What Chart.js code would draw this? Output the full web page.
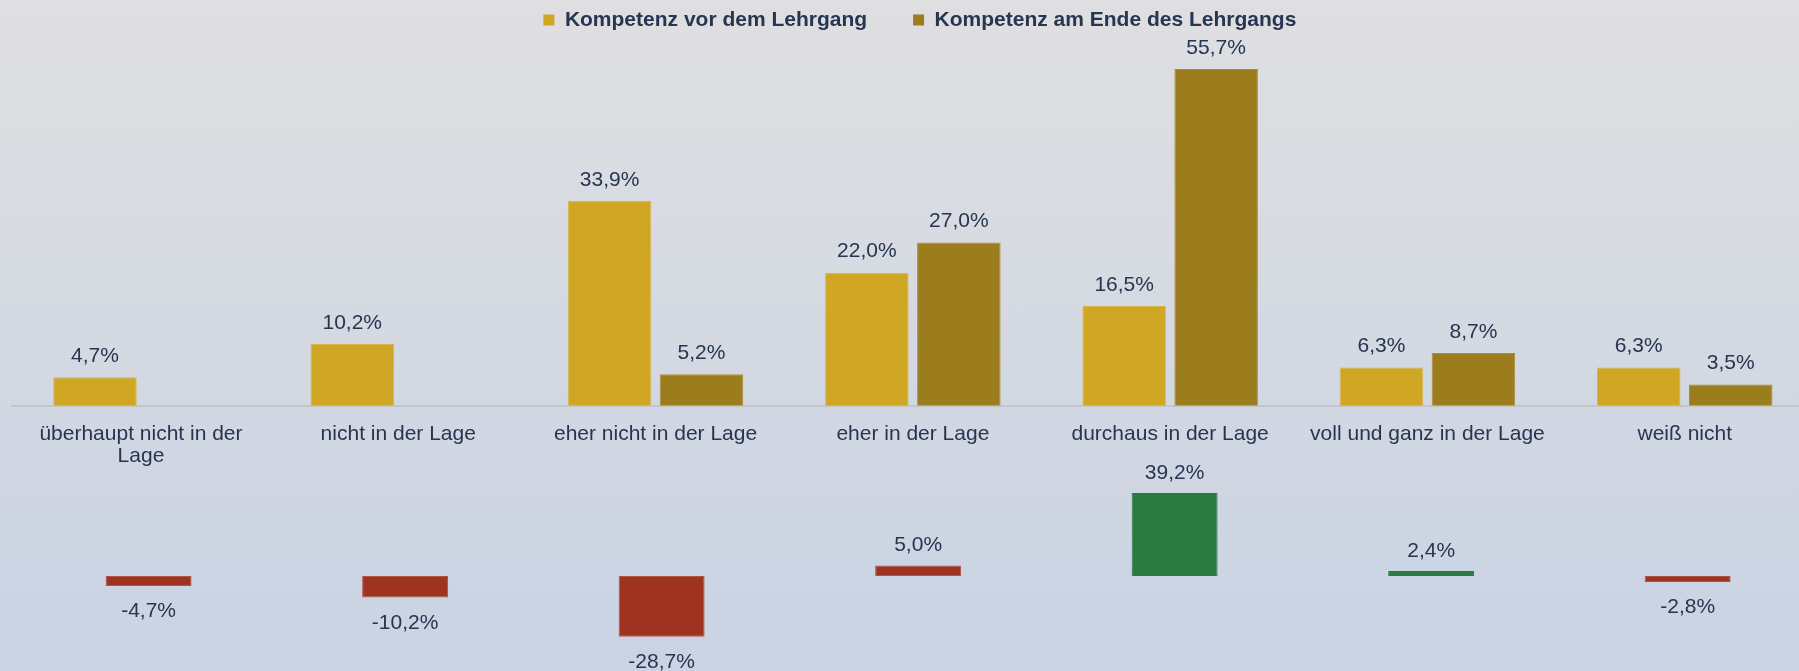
<!DOCTYPE html>
<html>
<head>
<meta charset="utf-8">
<script src="https://cdn.jsdelivr.net/npm/chart.js@4.4.1/dist/chart.umd.min.js"></script>
<style>
html, body { margin: 0; padding: 0; width: 1799px; height: 671px; overflow: hidden; }
body { position: relative; background: linear-gradient(to bottom, #DFDFE1 0%, #D2D8E2 60%, #C9D3E4 100%); }
canvas { position: absolute; left: 0; top: 0; }
</style>
</head>
<body>
<canvas id="mainChart" width="1830" height="671"></canvas>
<canvas id="diffChart" width="1830" height="671"></canvas>
<script>
// ---- data ----
const categories = [
  'überhaupt nicht in der Lage',
  'nicht in der Lage',
  'eher nicht in der Lage',
  'eher in der Lage',
  'durchaus in der Lage',
  'voll und ganz in der Lage',
  'weiß nicht'
];
const seriesNames = ['Kompetenz vor dem Lehrgang', 'Kompetenz am Ende des Lehrgangs'];
const vorLehrgang = [4.7, 10.2, 33.9, 22.0, 16.5, 6.3, 6.3];
const endeLehrgang = [null, null, 5.2, 27.0, 55.7, 8.7, 3.5];
const veraenderung = [-4.7, -10.2, -28.7, 5.0, 39.2, 2.4, -2.8];

// ---- styles ----
const TEXT = '#263550';
const GOLD = '#D0A625';
const OLIVE = '#9C7D1D';
const RED = '#9E3420';
const GREEN = '#2A7A42';
const diffColors = [RED, RED, RED, RED, GREEN, GREEN, RED];
const diffBorders = ['#AF5345', '#AF5345', '#AF5345', '#AF5345', GREEN, GREEN, '#AF5345'];
const FONT = '"Liberation Sans", Arial, Helvetica, sans-serif';

Chart.defaults.font.family = FONT;
Chart.defaults.color = TEXT;

function fmt(v) { return v.toFixed(1).replace('.', ',') + '%'; }
function wrapLabel(label) {
  if (label.length <= 25) return label;
  const i = label.lastIndexOf(' ');
  return [label.slice(0, i), label.slice(i + 1)];
}

const valueLabels = {
  id: 'valueLabels',
  afterDatasetsDraw(chart, args, opts) {
    const ctx = chart.ctx;
    ctx.save();
    ctx.font = '21px ' + FONT;
    ctx.fillStyle = TEXT;
    ctx.textAlign = 'center';
    ctx.textBaseline = 'middle';
    chart.data.datasets.forEach((ds, di) => {
      const meta = chart.getDatasetMeta(di);
      meta.data.forEach((el, i) => {
        const v = ds.data[i];
        if (v === null || v === undefined) return;
        const y = v >= 0 ? el.y - opts.above : el.y + opts.below;
        ctx.fillText(fmt(v), el.x, y);
      });
    });
    ctx.restore();
  }
};

const legendShift = {
  id: 'legendShift',
  afterLayout(chart, args, opts) {
    const lg = chart.legend;
    if (!lg) return;
    lg.left += opts.dx; lg.right += opts.dx;
    lg.top += opts.dy; lg.bottom += opts.dy;
  }
};

new Chart(document.getElementById('mainChart'), {
  type: 'bar',
  data: {
    labels: categories,
    datasets: [
      { label: seriesNames[0], data: vorLehrgang, backgroundColor: GOLD, borderColor: '#D8B550', borderWidth: 1 },
      { label: seriesNames[1], data: endeLehrgang, backgroundColor: OLIVE, borderColor: '#A98C3C', borderWidth: 1 }
    ]
  },
  plugins: [valueLabels, legendShift],
  options: {
    responsive: false,
    animation: false,
    layout: { padding: { left: 12.3, right: 16.6, top: -34, bottom: 186 } },
    datasets: { bar: { barPercentage: 0.908, categoryPercentage: 0.715 } },
    scales: {
      x: {
        grid: { display: false, drawTicks: false },
        border: { display: true, color: '#C2C4CA', width: 2 },
        ticks: {
          autoSkip: false, maxRotation: 0, minRotation: 0, padding: 17,
          color: TEXT,
          font: { size: 21, lineHeight: 1.08 },
          callback: function (value) { return wrapLabel(this.getLabelForValue(value)); }
        }
      },
      y: { display: false, min: 0, max: 60 }
    },
    plugins: {
      legend: {
        position: 'top',
        labels: {
          boxWidth: 11, boxHeight: 11, padding: 46, color: TEXT,
          font: { size: 21, weight: 'bold' },
          generateLabels(chart) {
            const items = Chart.defaults.plugins.legend.labels.generateLabels(chart);
            items.forEach(it => { it.lineWidth = 0; it.strokeStyle = 'rgba(0,0,0,0)'; });
            return items;
          }
        }
      },
      tooltip: { enabled: false },
      valueLabels: { above: 21, below: 25 },
      legendShift: { dx: 7, dy: -2.5 }
    }
  }
});

new Chart(document.getElementById('diffChart'), {
  type: 'bar',
  data: {
    labels: categories,
    datasets: [
      { label: 'Veränderung', data: veraenderung, backgroundColor: diffColors, borderColor: diffBorders, borderWidth: 1, borderSkipped: false }
    ]
  },
  plugins: [valueLabels],
  options: {
    responsive: false,
    animation: false,
    layout: { padding: { left: 20.35, right: 14.1, top: 491.4, bottom: 10.4 } },
    datasets: { bar: { barPercentage: 1, categoryPercentage: 0.335 } },
    scales: {
      x: { display: false },
      y: { display: false, min: -40, max: 40 }
    },
    plugins: {
      legend: { display: false },
      tooltip: { enabled: false },
      valueLabels: { above: 20, below: 25.5 }
    }
  }
});
</script>
</body>
</html>
